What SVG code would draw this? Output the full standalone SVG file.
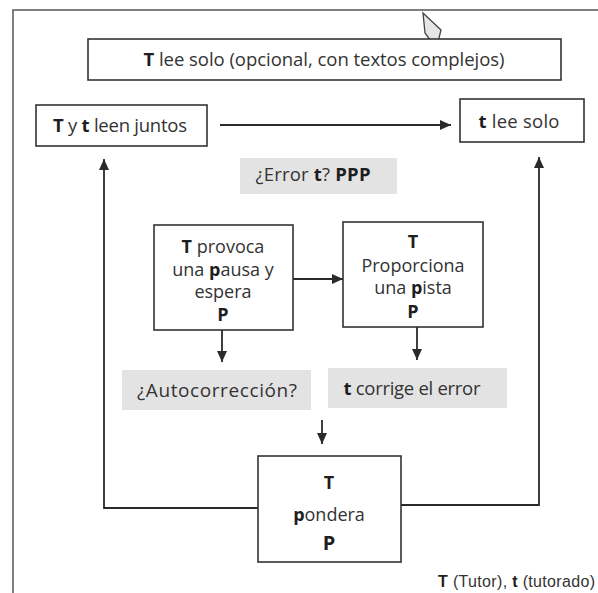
<svg xmlns="http://www.w3.org/2000/svg" width="598" height="593" viewBox="0 0 598 593">
<defs>
<marker id="ah" markerUnits="userSpaceOnUse" markerWidth="11" markerHeight="10" refX="11" refY="5" orient="auto">
<path d="M0,0 L11,5 L0,10 z" fill="#2a2a2a"/>
</marker>
<style>
.box{fill:#fff;stroke:#333;stroke-width:1.6}
.gray{fill:#e3e3e3;stroke:none}
.ln{fill:none;stroke:#2a2a2a;stroke-width:1.8}
.frame{fill:none;stroke:#555;stroke-width:1.5}
text{font-family:"Open Sans","DejaVu Sans",sans-serif;fill:#333;text-anchor:middle}
.b{font-weight:bold;fill:#1e1e1e}
.t18{font-size:18.5px}
.t17{font-size:18px}
.foot{font-family:"Liberation Sans",Arial,sans-serif;font-size:16px;text-anchor:end}
</style>
</defs>
<rect width="598" height="593" fill="#fff"/>
<g id="frame">
<path class="frame" d="M13,593 L13,10 L598,10"/>
</g>
<g id="cursor">
<polygon points="423,13 441,30 438,42 430,40 425,33" fill="#e6e6e6" stroke="#444" stroke-width="1.3"/>
</g>
<g id="connectors">
<line class="ln" x1="220" y1="125" x2="451" y2="125" marker-end="url(#ah)"/>
<line class="ln" x1="293" y1="279" x2="343" y2="279" marker-end="url(#ah)"/>
<line class="ln" x1="222" y1="330" x2="222" y2="362" marker-end="url(#ah)"/>
<line class="ln" x1="417" y1="327" x2="417" y2="360" marker-end="url(#ah)"/>
<line class="ln" x1="322" y1="420" x2="322" y2="444" marker-end="url(#ah)"/>
<polyline class="ln" points="258,508 104,508 104,159" marker-end="url(#ah)"/>
<polyline class="ln" points="401,505 539,505 539,157" marker-end="url(#ah)"/>
</g>
<g id="n-top">
<rect class="box" x="88" y="39" width="473" height="41"/>
<text class="t18" x="324" y="66" textLength="361"><tspan class="b">T</tspan> lee solo (opcional, con textos complejos)</text>
</g>
<g id="n-juntos">
<rect class="box" x="36" y="105" width="171" height="41"/>
<text class="t18" x="120" y="132" textLength="134"><tspan class="b">T</tspan> y <tspan class="b">t</tspan> leen juntos</text>
</g>
<g id="n-solo">
<rect class="box" x="460" y="99" width="124" height="43"/>
<text class="t18" x="519" y="128" textLength="81"><tspan class="b">t</tspan> lee solo</text>
</g>
<g id="n-error">
<rect class="gray" x="240" y="158" width="157" height="36"/>
<text class="t18" x="313" y="181" textLength="115">¿Error <tspan class="b">t</tspan>? <tspan class="b">PPP</tspan></text>
</g>
<g id="n-pausa">
<rect class="box" x="154" y="225" width="139" height="105"/>
<text class="t17" x="223" y="253"><tspan class="b">T</tspan> provoca</text>
<text class="t17" x="223" y="276">una <tspan class="b">p</tspan>ausa y</text>
<text class="t17" x="223" y="298">espera</text>
<text class="t17 b" x="223" y="321">P</text>
</g>
<g id="n-pista">
<rect class="box" x="343" y="222" width="140" height="105"/>
<text class="t17 b" x="413" y="248">T</text>
<text class="t17" x="413" y="272">Proporciona</text>
<text class="t17" x="413" y="294">una <tspan class="b">p</tspan>ista</text>
<text class="t17 b" x="413" y="318">P</text>
</g>
<g id="n-auto">
<rect class="gray" x="122" y="370" width="189" height="40"/>
<text style="font-size:19px" x="217" y="397" textLength="160">¿Autocorrección?</text>
</g>
<g id="n-corrige">
<rect class="gray" x="328" y="368" width="179" height="40"/>
<text class="t18" x="412" y="395" textLength="137"><tspan class="b">t</tspan> corrige el error</text>
</g>
<g id="n-pondera">
<rect class="box" x="258" y="456" width="143" height="106"/>
<text class="t17 b" x="329" y="489">T</text>
<text class="t17" x="329" y="521"><tspan class="b">p</tspan>ondera</text>
<text class="b" style="font-size:20px" x="329" y="550">P</text>
</g>
<g id="legend">
<text class="foot" x="595" y="587" textLength="157"><tspan class="b">T</tspan> (Tutor), <tspan class="b">t</tspan> (tutorado)</text>
</g>
</svg>
